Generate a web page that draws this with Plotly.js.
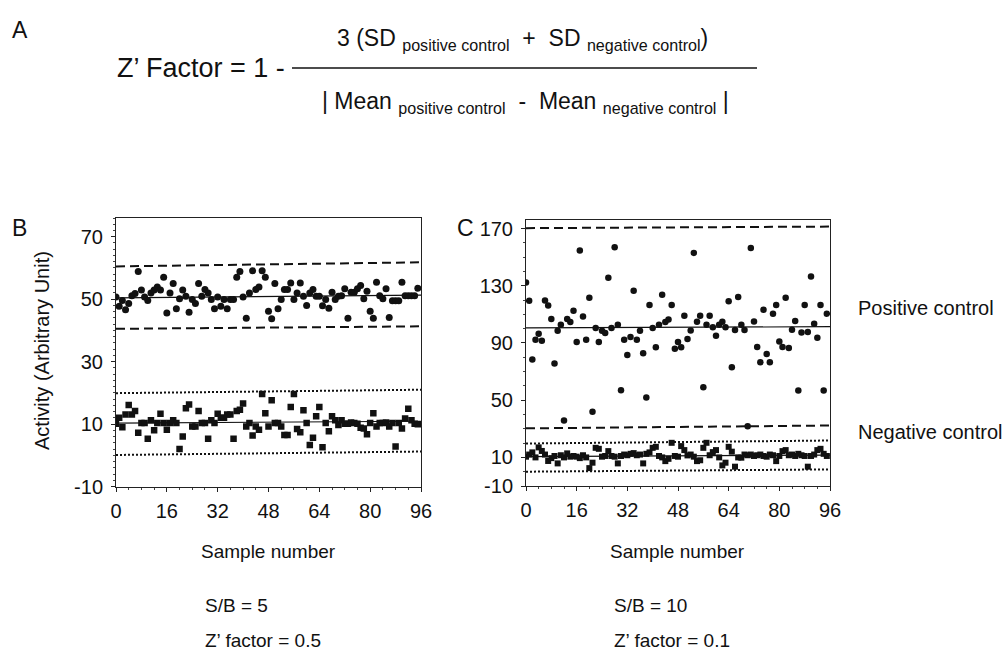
<!DOCTYPE html>
<html>
<head>
<meta charset="utf-8">
<script src="https://cdn.plot.ly/plotly-3.0.1.min.js"></script>
<style>
html,body{margin:0;padding:0;background:#fff;}
#chart{width:1007px;height:650px;}
</style>
</head>
<body>
<div id="chart"></div>
<script>
// ---- Data ----
var xTickVals = [0, 16, 32, 48, 64, 80, 96];
var yTickValsB = [-10, 10, 30, 50, 70];
var yTickTextB = ['-10', '10', '30', '50', '70'];
var yTickValsC = [-10, 10, 50, 90, 130, 170];
var yTickTextC = ['-10', '10', '50', '90', '130', '170'];

// Panel B (S/B = 5)
var bPositive = [50.7,47.7,49.6,46.6,48.6,51.1,51.8,58.9,52.9,50.7,
  49.6,52.0,52.9,53.9,52.9,57.0,45.6,52.0,55.0,46.9,
  50.1,52.9,50.9,45.8,49.9,48.6,55.0,50.9,53.1,52.0,
  49.9,46.9,50.7,47.7,49.9,46.9,49.9,49.9,57.0,58.9,
  50.7,43.9,52.0,59.1,53.1,53.9,59.1,57.0,46.1,43.7,
  55.0,46.9,49.9,53.1,53.1,55.2,49.9,52.0,55.2,50.9,
  48.0,52.0,53.1,50.9,50.9,47.9,49.9,47.1,52.2,49.9,
  50.9,51.1,53.3,43.9,52.2,52.2,53.3,54.4,50.1,52.5,
  46.1,43.9,55.4,51.1,50.1,53.3,44.1,49.5,49.5,49.5,
  55.4,51.1,51.1,51.1,51.1,53.5];
var bNegative = [10.1,12.0,9.0,13.1,16.1,13.1,14.2,7.2,10.3,10.3,
  5.3,11.2,8.0,10.3,13.3,10.3,8.2,10.3,11.2,10.3,
  2.0,6.0,15.1,16.3,9.2,9.2,14.2,10.3,10.3,5.3,
  11.2,10.3,13.3,12.0,12.0,13.1,13.1,5.3,14.2,14.6,
  16.6,9.2,10.3,6.3,9.2,8.2,19.6,13.5,9.2,17.6,
  10.3,10.3,9.2,6.5,6.5,15.5,19.6,8.4,7.4,14.4,
  10.3,3.3,5.6,12.5,15.5,2.6,10.3,7.7,12.5,11.2,
  9.7,11.2,10.1,10.1,10.5,10.3,10.1,8.8,8.6,6.7,
  10.3,13.5,9.2,10.3,10.3,10.5,9.2,10.3,2.8,10.3,
  8.6,11.8,14.9,11.2,10.1,9.9];
// reference lines: [value at sample 0, value at sample 96]
var lineEnds = [0, 96];
var bPosMean = [50.4, 51.3];
var bPosUpper = [60.5, 61.8];
var bPosLower = [40.5, 41.3];
var bNegMean = [10.3, 10.9];
var bNegUpper = [19.9, 21.0];
var bNegLower = [0.1, 1.2];

// Panel C (S/B = 10)
var cPositive = [132.3,119.5,78.4,92.3,96.5,91.6,119.7,116.3,106.7,75.6,
  98.6,102.8,35.8,106.7,104.7,112.6,90.7,154.7,108.6,92.3,
  121.6,41.9,100.5,90.7,98.6,96.9,135.6,100.5,157.0,102.8,
  57.0,92.3,81.6,94.2,126.5,92.3,98.6,82.8,51.9,116.5,
  100.5,87.0,102.8,123.7,104.7,106.5,116.5,86.0,90.7,
  87.0,109.1,92.8,98.8,153.0,104.9,109.1,59.1,102.8,109.1,
  101.0,95.1,102.8,104.9,101.0,119.1,73.0,99.1,122.1,102.8,
  99.1,31.7,156.5,105.1,87.2,76.5,113.3,82.3,76.5,110.5,
  116.5,91.1,87.2,121.6,86.5,99.3,105.3,56.7,97.4,116.5,
  97.7,136.5,103.5,93.7,116.5,56.7,110.5];
var cNegative = [10.5,12.0,13.5,10.0,17.0,14.5,12.0,7.5,9.5,11.0,
  5.8,11.5,10.0,12.8,10.5,11.0,10.5,9.5,11.5,10.0,
  2.5,6.3,16.7,16.0,10.5,11.0,14.4,11.0,10.5,5.8,
  11.0,12.0,11.5,12.5,13.0,11.5,12.0,5.8,12.5,13.5,
  16.7,17.4,11.0,10.0,7.4,9.0,20.2,11.0,10.5,17.9,
  15.1,11.4,12.0,10.5,7.4,8.0,16.7,20.2,11.5,13.7,
  15.1,10.0,4.4,6.3,17.4,14.0,3.5,10.0,9.8,12.0,
  11.5,12.0,11.0,11.5,12.0,11.0,10.5,12.0,11.5,7.4,
  11.0,14.4,15.1,11.5,12.0,11.0,12.5,11.5,11.0,3.5,
  11.0,12.0,15.1,16.0,12.5,11.0];
var cPosMean = [100.5, 101.4];
var cPosUpper = [170.3, 171.4];
var cPosLower = [30.3, 32.3];
var cNegMean = [10.6, 11.6];
var cNegUpper = [19.7, 21.8];
var cNegLower = [0.0, 1.6];

function samples(arr){ var s=[]; for (var i=0;i<arr.length;i++) s.push(i); return s; }

var INK = '#111111';
var FONT = '"Liberation Sans", Arial, Helvetica, sans-serif';

function pts(vals, sym, size, xa, ya){
  return {x: samples(vals), y: vals, mode:'markers', type:'scatter', xaxis:xa, yaxis:ya,
    marker:{symbol:sym, size:size, color:INK}, showlegend:false, hoverinfo:'x+y'};
}
function ln(vals, dash, width, xa, ya){
  return {x: lineEnds, y: vals, mode:'lines', type:'scatter', xaxis:xa, yaxis:ya,
    line:{color:INK, dash:dash, width:width}, showlegend:false, hoverinfo:'skip'};
}

var traces = [
  ln(bPosUpper,'9px,5px',2,'x','y'), ln(bPosLower,'9px,5px',2,'x','y'), ln(bPosMean,'solid',1.2,'x','y'),
  ln(bNegUpper,'2px,2px',2,'x','y'), ln(bNegLower,'2px,2px',2,'x','y'), ln(bNegMean,'solid',1.2,'x','y'),
  pts(bPositive,'circle',7,'x','y'), pts(bNegative,'square',6.5,'x','y'),
  ln(cPosUpper,'9px,5px',2,'x2','y2'), ln(cPosLower,'9px,5px',2,'x2','y2'), ln(cPosMean,'solid',1.2,'x2','y2'),
  ln(cNegUpper,'2px,2px',2,'x2','y2'), ln(cNegLower,'2px,2px',2,'x2','y2'), ln(cNegMean,'solid',1.2,'x2','y2'),
  pts(cPositive,'circle',6.5,'x2','y2'), pts(cNegative,'square',6,'x2','y2')
];

var W = 1007, H = 650;
function px(x){ return x / W; }
function py(y){ return 1 - y / H; }

function xAxis(dom, anchor){
  return {domain:[px(dom[0]), px(dom[1])], anchor:anchor, range:[0,96], tickvals:xTickVals,
    showline:true, mirror:true, linecolor:'#222', linewidth:1, zeroline:false, showgrid:false,
    ticks:'outside', ticklen:4, tickcolor:'#222',
    minor:{dtick:4, ticklen:2, ticks:'outside', tickcolor:'#444', showgrid:false},
    tickfont:{family:FONT, size:20, color:INK}, ticklabelstandoff:2, fixedrange:true};
}
function yAxis(dom, anchor, range, tv, tt, minorD){
  return {domain:[py(dom[1]), py(dom[0])], anchor:anchor, range:range, tickvals:tv, ticktext:tt,
    showline:true, mirror:true, linecolor:'#222', linewidth:1, zeroline:false, showgrid:false,
    ticks:'outside', ticklen:4, tickcolor:'#222',
    minor:{dtick:minorD, ticklen:2, ticks:'outside', tickcolor:'#444', showgrid:false},
    tickfont:{family:FONT, size:20, color:INK}, ticklabelstandoff:4, fixedrange:true};
}

function txt(t, x, y, size, xanchor, extra){
  var a = {text:t, xref:'paper', yref:'paper', x:px(x), y:py(y), xanchor:xanchor||'left', yanchor:'middle',
    showarrow:false, font:{family:FONT, size:size, color:INK}};
  if (extra) for (var k in extra) a[k]=extra[k];
  return a;
}

var annotations = [
  txt('A', 10, 30, 23),
  txt('B', 10, 228, 23),
  txt('C', 455, 228, 23),
  txt('Z’ Factor = 1 -', 287, 68, 27, 'right'),
  txt('3 (SD <sub>positive control</sub>  +  SD <sub>negative control</sub>)', 522, 39, 23, 'center'),
  txt('| Mean <sub>positive control</sub>  -  Mean <sub>negative control</sub> |', 525, 102, 23, 'center'),
  txt('Activity (Arbitrary Unit)', 42, 351, 20, 'center', {textangle:-90}),
  txt('Sample number', 268, 551, 19, 'center'),
  txt('Sample number', 677, 551, 19, 'center'),
  txt('S/B = 5', 203, 605, 19),
  txt('Z’ factor = 0.5', 203, 640, 19),
  txt('S/B = 10', 612, 605, 19),
  txt('Z’ factor = 0.1', 612, 640, 19),
  txt('Positive control', 856, 308, 20),
  txt('Negative control', 856, 432, 20)
];

var layout = {
  width:W, height:H, margin:{l:0, r:0, t:0, b:0},
  paper_bgcolor:'#ffffff', plot_bgcolor:'#ffffff',
  font:{family:FONT, color:INK},
  xaxis: xAxis([116, 421], 'y'),
  yaxis: yAxis([218, 486.5], 'x', [-10, 76], yTickValsB, yTickTextB, 2),
  xaxis2: xAxis([526, 830], 'y2'),
  yaxis2: yAxis([220, 486], 'x2', [-10, 176], yTickValsC, yTickTextC, 10),
  annotations: annotations,
  shapes: [{type:'line', xref:'paper', yref:'paper', x0:px(292), x1:px(757), y0:py(68), y1:py(68),
    line:{color:INK, width:1.3}}],
  showlegend:false
};

Plotly.newPlot('chart', traces, layout, {staticPlot:true, displayModeBar:false});
</script>
</body>
</html>
